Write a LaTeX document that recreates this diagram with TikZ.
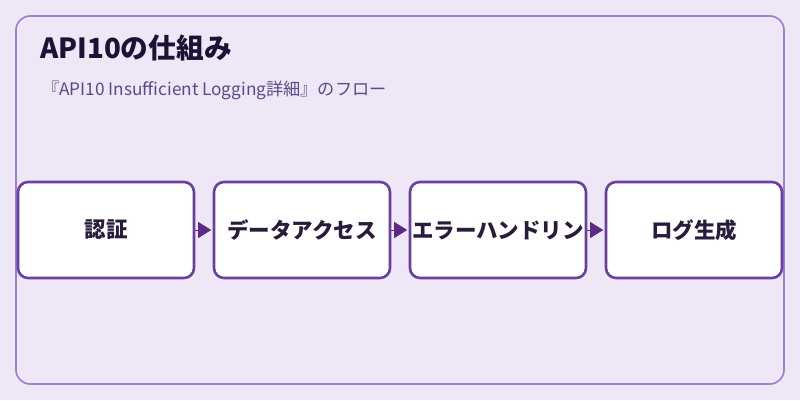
\documentclass[tikz,border=0pt]{standalone}
\usepackage{fontspec}
\setmainfont{Noto Sans CJK JP}
\usepackage{tikz}
\usetikzlibrary{arrows.meta}

\definecolor{bgpurple}{HTML}{EDE7F6}
\definecolor{framepurple}{HTML}{A07ED2}
\definecolor{boxpurple}{HTML}{6A3FA0}
\definecolor{arrowpurple}{HTML}{5B2A86}
\definecolor{titleink}{HTML}{1F1135}
\definecolor{subink}{HTML}{5C4B85}
\definecolor{boxink}{HTML}{2A1B3D}

\begin{document}
\begin{tikzpicture}[x=1pt, y=-1pt,
	stepbox/.style={draw=boxpurple, line width=2.6pt, fill=white, rounded corners=10pt,
		minimum width=176pt, minimum height=96pt, inner sep=0pt,
		font=\fontsize{21.5}{24}\selectfont\bfseries, text=boxink},
	flowarrow/.style={draw=arrowpurple, line width=1pt, shorten >=1.5pt,
		-{Triangle[length=13pt, width=16pt]}}]

\useasboundingbox[fill=bgpurple] (0,0) rectangle (800,400);

\draw[framepurple, line width=1.6pt, rounded corners=14pt] (16,16) rectangle (784,384);

\node[anchor=base west, text=titleink, font=\fontsize{27.7}{34}\selectfont\bfseries, inner sep=0pt]
	(title) at (40,58) {API10の仕組み};
\node[anchor=base west, text=subink, font=\fontsize{17.2}{20}\selectfont, inner sep=0pt]
	(subtitle) at (42,95) {『API10 Insufficient Logging詳細』のフロー};

\def \c {230}

\node[stepbox] (auth)   at (106,\c) {\raisebox{-1pt}{認証}};
\node[stepbox] (access) at (302,\c) {\raisebox{-1pt}{データアクセス}};
\node[stepbox] (errors) at (498,\c) {\raisebox{-1pt}{エラーハンドリン}};
\node[stepbox] (logs)   at (694,\c) {\raisebox{-1pt}{ログ生成}};

\foreach \a/\b in {auth/access, access/errors, errors/logs}{
	\draw[flowarrow] (\a.east) -- (\b.west);
}

\end{tikzpicture}
\end{document}
